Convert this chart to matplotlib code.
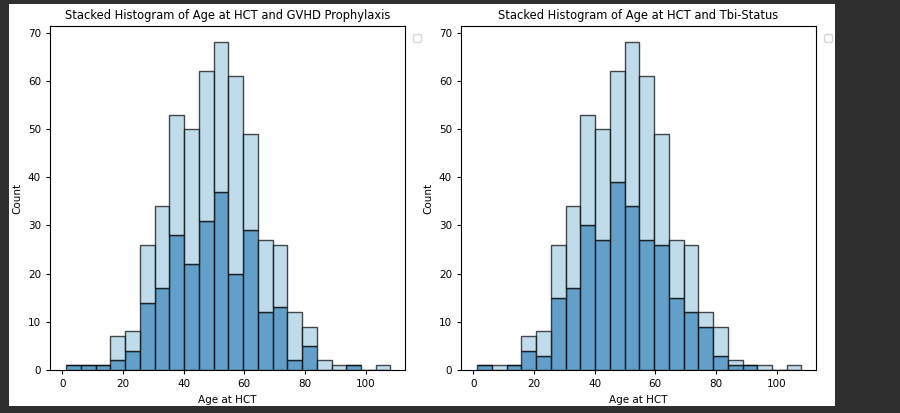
import matplotlib
matplotlib.use("Agg")
import matplotlib.pyplot as plt
import numpy as np

# bin edges of Age at HCT (22 bins)
bin_start = 1.3
bin_width = 4.86
n_bins = 22

# left: GVHD Prophylaxis, total and lower (dark) part
gvhd_total = [1, 1, 1, 7, 8, 26, 34, 53, 50, 62, 68, 61, 49, 27, 26, 12, 9, 2, 1, 1, 0, 1]
gvhd_dark = [1, 1, 1, 2, 4, 14, 17, 28, 22, 31, 37, 20, 29, 12, 13, 2, 5, 0, 0, 1, 0, 0]

# right: Tbi-Status
tbi_total = [1, 1, 1, 7, 8, 26, 34, 53, 50, 62, 68, 61, 49, 27, 26, 12, 9, 2, 1, 1, 0, 1]
tbi_dark = [1, 0, 1, 4, 3, 15, 17, 30, 27, 39, 34, 27, 26, 15, 12, 9, 3, 1, 1, 0, 0, 0]

titles = ["Stacked Histogram of Age at HCT and GVHD Prophylaxis",
          "Stacked Histogram of Age at HCT and Tbi-Status"]

dark_col = "#1f78b4"
light_col = "#a6cee3"

W, H = 900, 413
fig = plt.figure(figsize=(9, 4.13), dpi=100, facecolor="#2f2f2f")
# white notebook output area
fig.patches.append(plt.Rectangle((9 / W, 1 - 406 / H), (835 - 9) / W, (406 - 4) / H,
                                 transform=fig.transFigure, facecolor="white",
                                 edgecolor="none", zorder=-5))

lefts = [50, 461]
ax_w = 355
top, bottom = 26, 370

edges = bin_start + bin_width * np.arange(n_bins + 1)
lefts_bins = edges[:-1]

for i, (tot, dark) in enumerate([(gvhd_total, gvhd_dark), (tbi_total, tbi_dark)]):
    ax = fig.add_axes([lefts[i] / W, 1 - bottom / H, ax_w / W, (bottom - top) / H])
    tot = np.array(tot)
    dark = np.array(dark)
    light = tot - dark
    ax.bar(lefts_bins, dark, width=bin_width, align="edge", color=dark_col,
           edgecolor="black", linewidth=1, alpha=0.7)
    ax.bar(lefts_bins, light, bottom=dark, width=bin_width, align="edge",
           color=light_col, edgecolor="black", linewidth=1, alpha=0.7)
    ax.set_xlim(-4, 113)
    ax.set_ylim(0, 71.4)
    ax.set_xticks([0, 20, 40, 60, 80, 100])
    ax.set_yticks([0, 10, 20, 30, 40, 50, 60, 70])
    ax.tick_params(labelsize=7.5, length=3)
    ax.set_title(titles[i], fontsize=8.3, pad=5)
    ax.set_xlabel("Age at HCT", fontsize=7.5)
    ax.set_ylabel("Count", fontsize=7.5)
    ax.legend(handles=[], loc="upper left", bbox_to_anchor=(1.01, 0.99),
              fontsize=7)

fig.savefig("out.png", dpi=100, facecolor=fig.get_facecolor())
